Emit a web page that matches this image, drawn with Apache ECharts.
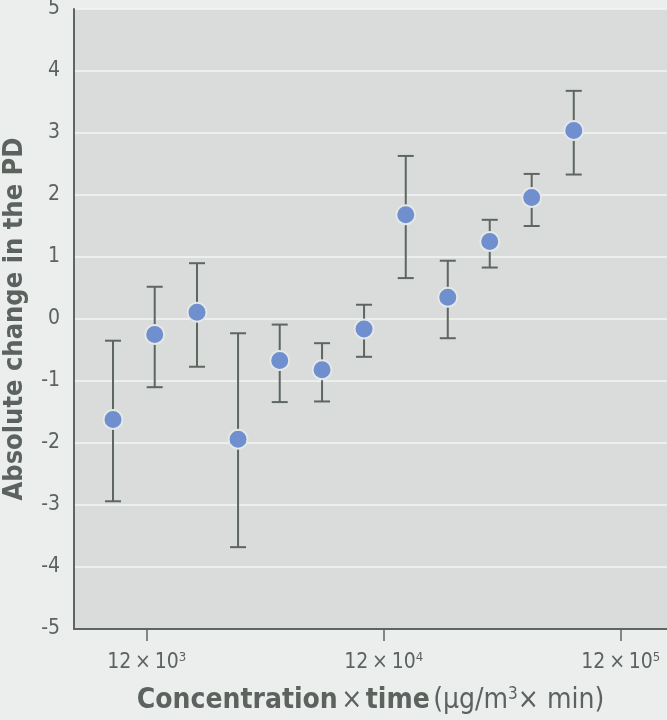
<!DOCTYPE html>
<html>
<head>
<meta charset="utf-8">
<script src="https://cdn.jsdelivr.net/npm/echarts@6/dist/echarts.min.js"></script>
<style>
  html, body { margin: 0; padding: 0; background: #eceeed; }
  #chart { width: 667px; height: 720px; }
</style>
</head>
<body>
<div id="chart"></div>
<script>
// dose (µg/m3 x min) and PD change
const doses = [8650, 12970, 19560, 29140, 43680, 65900, 99100, 148600, 223500, 336000, 505000, 760000]
const means = [-1.62, -0.25, 0.11, -1.94, -0.67, -0.82, -0.16, 1.68, 0.35, 1.25, 1.96, 3.04]
const upper = [-0.35, 0.52, 0.90, -0.23, -0.09, -0.39, 0.23, 2.63, 0.94, 1.60, 2.34, 3.68]
const lower = [-2.94, -1.10, -0.77, -3.68, -1.34, -1.33, -0.61, 0.66, -0.31, 0.83, 1.50, 2.33]
const xTicks = [12000, 120000, 1200000]

const FONT = '"Liberation Sans Narrow", "DejaVu Sans Condensed", "Roboto", sans-serif'
const TEXT = '#5c635e'
const AXIS = '#5d665f'

const chart = echarts.init(document.getElementById('chart'), null, { renderer: 'canvas' })

const points = doses.map((d, i) => [d, means[i]])
const bars = doses.map((d, i) => [d, lower[i], upper[i]])

const renderErrorBar = (params, api) => {
	const x = api.value(0)
	const lo = api.coord([x, api.value(1)])
	const hi = api.coord([x, api.value(2)])
	const half = 8
	const style = { stroke: AXIS, lineWidth: 2 }
	return {
		type: 'group',
		children: [
			{ type: 'line', shape: { x1: lo[0], y1: lo[1], x2: hi[0], y2: hi[1] }, style },
			{ type: 'line', shape: { x1: lo[0] - half, y1: lo[1], x2: lo[0] + half, y2: lo[1] }, style },
			{ type: 'line', shape: { x1: hi[0] - half, y1: hi[1], x2: hi[0] + half, y2: hi[1] }, style }
		]
	}
}

const option = {
	backgroundColor: '#eceeed',
	textStyle: { fontFamily: FONT },
	grid: {
		top: 9,
		left: 74,
		right: 0,
		bottom: 91,
		containLabel: false,
		outerBoundsMode: 'none',
		show: true,
		backgroundColor: '#d9dcdb',
		borderWidth: 0
	},
	xAxis: {
		type: 'log',
		logBase: 10,
		min: 5921,
		max: 1880000,
		splitLine: { show: false },
		axisLine: { show: true, onZero: false, lineStyle: { color: AXIS, width: 2 } },
		axisTick: {
			show: true,
			customValues: xTicks,
			length: 12,
			lineStyle: { color: AXIS, width: 1.5 }
		},
		axisLabel: {
			customValues: xTicks,
			margin: 22,
			formatter: (v) => {
				const exp = Math.round(Math.log10(v / 12))
				return '{a|12\u2009×\u200910}{s|' + exp + '}'
			},
			rich: {
				a: { fontFamily: FONT, fontSize: 21, color: TEXT, lineHeight: 24 },
				s: { fontFamily: FONT, fontSize: 13, color: TEXT, verticalAlign: 'top', lineHeight: 24, padding: [0, 0, 9, 0] }
			}
		},
		name: '{b|Concentration} {r|×} {b|time} {r|(μg/m}{s|3}{r|× min)}',
		nameLocation: 'middle',
		nameGap: 56,
		nameTextStyle: {
			rich: {
				b: { fontFamily: FONT, fontSize: 28, fontWeight: 'bold', color: TEXT, lineHeight: 32 },
				r: { fontFamily: FONT, fontSize: 28, color: TEXT, lineHeight: 32 },
				s: { fontFamily: FONT, fontSize: 17, color: TEXT, lineHeight: 32, padding: [0, 0, 12, 0] }
			}
		}
	},
	yAxis: {
		type: 'value',
		min: -5,
		max: 5,
		interval: 1,
		axisLine: { show: true, lineStyle: { color: AXIS, width: 2 } },
		axisTick: { show: false },
		axisLabel: { fontFamily: FONT, fontSize: 21, color: TEXT, margin: 14 },
		splitLine: { show: true, lineStyle: { color: '#f3f5f4', width: 1.5 } },
		name: 'Absolute change in the PD',
		nameLocation: 'middle',
		nameGap: 46,
		nameTextStyle: { fontFamily: FONT, fontSize: 27, fontWeight: 'bold', color: TEXT }
	},
	series: [
		{
			type: 'custom',
			renderItem: renderErrorBar,
			encode: { x: 0, y: [1, 2] },
			data: bars,
			z: 2
		},
		{
			type: 'scatter',
			data: points,
			symbolSize: 19,
			itemStyle: { color: '#6f8fcf', borderColor: '#e4e8e7', borderWidth: 2, opacity: 1 },
			z: 3
		}
	]
}

chart.setOption(option)
</script>
</body>
</html>
